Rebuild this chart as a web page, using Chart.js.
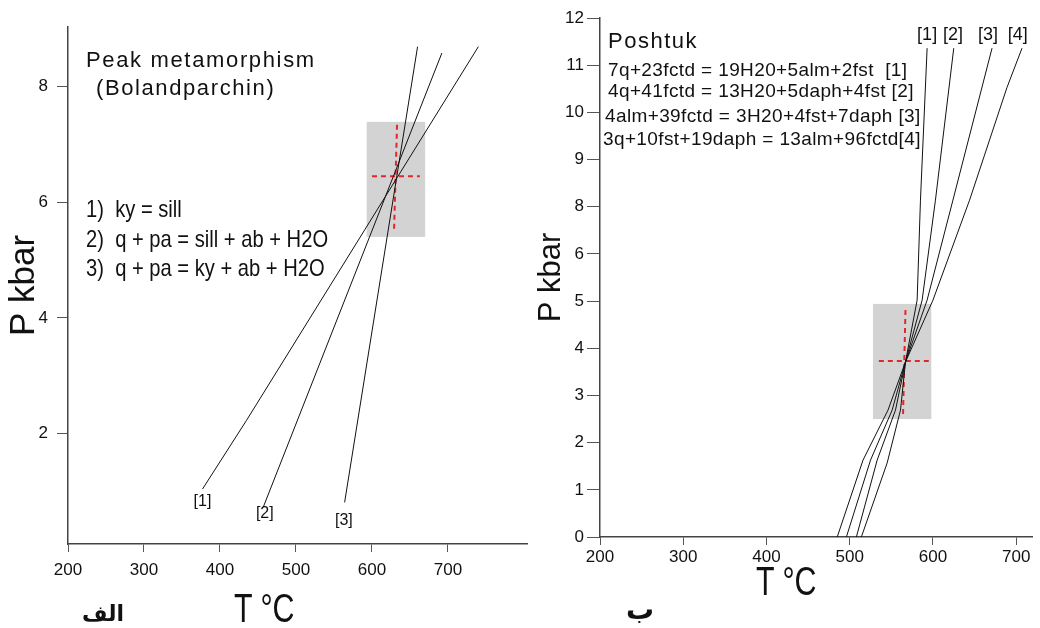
<!DOCTYPE html>
<html>
<head>
  <meta charset="utf-8">
  <title>P-T</title>
  <script src="https://cdn.jsdelivr.net/npm/chart.js@4.4.0/dist/chart.umd.min.js"></script>
  <style>
    body { margin:0; width:1040px; height:628px; position:relative; background:#fff; overflow:hidden;
           font-family:"Liberation Sans", Arial, sans-serif; color:#111; }
    canvas { position:absolute; top:0; }
    .t { position:absolute; white-space:nowrap; line-height:1; }
    .narrow { transform-origin:0 0; transform:scaleX(0.84); }
    .title { transform-origin:0 0; transform:scaleX(0.76); }
    .eq { font-size:19px; letter-spacing:0.38px; }
    .fa { font-family:"DejaVu Sans", sans-serif; font-weight:bold; }
  </style>
</head>
<body>
  <canvas id="left" width="530" height="628" style="left:0"></canvas>
  <canvas id="right" width="510" height="628" style="left:530px"></canvas>

  <div class="t" style="left:86px; top:49px; font-size:22px; letter-spacing:1.65px">Peak metamorphism</div>
  <div class="t" style="left:96px; top:77px; font-size:22px; letter-spacing:1.6px">(Bolandparchin)</div>
  <div class="t narrow" style="left:86px; top:197px; font-size:24px">1)&nbsp; ky = sill</div>
  <div class="t narrow" style="left:86px; top:227px; font-size:24px">2)&nbsp; q + pa = sill + ab + H2O</div>
  <div class="t narrow" style="left:86px; top:256px; font-size:24px">3)&nbsp; q + pa = ky + ab + H2O</div>

  <div class="t" style="left:608px; top:30px; font-size:22px; letter-spacing:1.5px">Poshtuk</div>
  <div class="t eq" style="left:608px; top:60px">7q+23fctd = 19H20+5alm+2fst&nbsp; [1]</div>
  <div class="t eq" style="left:608px; top:81px">4q+41fctd = 13H20+5daph+4fst [2]</div>
  <div class="t eq" style="left:605px; top:106px">4alm+39fctd = 3H20+4fst+7daph [3]</div>
  <div class="t eq" style="left:603px; top:129px">3q+10fst+19daph = 13alm+96fctd[4]</div>

  <div class="t title" style="left:234px; top:588px; font-size:40px">T °C</div>
  <div class="t title" style="left:756px; top:561px; font-size:40px">T °C</div>
  <div class="t fa" style="left:82px; top:603px; font-size:22px">الف</div>
  <div class="t fa" style="left:626px; top:596px; font-size:28px">ب</div>

  <script>
  // ---- left diagram (Bolandparchin): T in °C, P in kbar ----
  const leftXTicks = [200, 300, 400, 500, 600, 700];
  const leftYTicks = [2, 4, 6, 8];
  const line1T = [377, 435, 740];
  const line1P = [1.04, 2.23, 8.69];
  const line2T = [457, 692];
  const line2P = [0.73, 8.58];
  const line3T = [564, 660];
  const line3P = [0.81, 8.69];
  const leftBoxT = [593, 670];
  const leftBoxP = [5.40, 7.39];
  const leftCrossHT = [600, 663];
  const leftCrossHP = [6.45, 6.45];
  const leftCrossVT = [633, 629];
  const leftCrossVP = [7.34, 5.49];
  const leftLabels = ['[1]', '[2]', '[3]'];
  const leftLabelT = [377, 459, 563];
  const leftLabelP = [0.83, 0.62, 0.50];

  // ---- right diagram (Poshtuk): y is the position on the drawn axis,
  // whose ticks are labelled 0..6, 8..12 (no 7 on the original)
  const rightXTicks = [200, 300, 400, 500, 600, 700];
  const rightYLabels = ['0', '1', '2', '3', '4', '5', '6', '8', '9', '10', '11', '12'];
  const r1T = [514, 545, 561, 567, 581, 585, 593];
  const r1P = [0, 1.57, 2.69, 3.71, 5.02, 7.14, 10.36];
  const r2T = [508, 533, 555, 567, 587, 603, 625];
  const r2P = [0, 1.63, 2.69, 3.71, 5.02, 7.14, 10.36];
  const r3T = [496, 525, 551, 567, 593, 624, 671];
  const r3P = [0, 1.63, 2.69, 3.71, 5.02, 7.14, 10.36];
  const r4T = [485, 516, 546, 567, 600, 644, 689, 707];
  const r4P = [0, 1.63, 2.69, 3.71, 5.02, 7.14, 9.53, 10.36];
  const rightBoxT = [528, 598];
  const rightBoxP = [2.50, 4.94];
  const rightCrossHT = [535, 595];
  const rightCrossHP = [3.73, 3.73];
  const rightCrossVT = [567, 564];
  const rightCrossVP = [4.81, 2.54];
  const rightLabels = ['[1]', '[2]', '[3]', '[4]'];
  const rightLabelT = [593, 624, 666, 702];
  const rightLabelP = [10.64, 10.64, 10.64, 10.64];

  function pts(xs, ys){
    return xs.map((x, i) => ({x: x, y: ys[i]}));
  }
  function curve(xs, ys){
    return {data: pts(xs, ys), borderColor: '#111', borderWidth: 1, pointRadius: 0, showLine: true, tension: 0};
  }
  function dashed(xs, ys){
    return {data: pts(xs, ys), borderColor: '#e3262b', borderWidth: 2, borderDash: [5, 4], pointRadius: 0, showLine: true};
  }

  // grey uncertainty box behind the curves + text labels at line ends
  const extras = {
    id: 'extras',
    beforeDatasetsDraw(chart, args, opts){
      const {ctx, scales: {x, y}} = chart;
      const x0 = x.getPixelForValue(opts.boxT[0]), x1 = x.getPixelForValue(opts.boxT[1]);
      const y0 = y.getPixelForValue(opts.boxP[1]), y1 = y.getPixelForValue(opts.boxP[0]);
      ctx.save();
      ctx.fillStyle = '#d3d3d3';
      ctx.fillRect(x0, y0, x1 - x0, y1 - y0);
      ctx.restore();
    },
    afterDatasetsDraw(chart, args, opts){
      const {ctx, scales: {x, y}} = chart;
      ctx.save();
      ctx.font = opts.font;
      ctx.fillStyle = '#111';
      ctx.textAlign = 'center';
      ctx.textBaseline = 'middle';
      opts.labels.forEach(function(txt, i){
        ctx.fillText(txt, x.getPixelForValue(opts.labelT[i]), y.getPixelForValue(opts.labelP[i]));
      });
      ctx.restore();
    }
  };

  const tickFont = {family: 'Liberation Sans', size: 17};

  function axisX(min, max, ticks, pad, h){
    return {
      type: 'linear', min: min, max: max,
      afterBuildTicks: s => { s.ticks = ticks.map(v => ({value: v})); },
      afterFit: s => { s.height = h; },
      grid: {drawOnChartArea: false, tickLength: 8, color: '#555'},
      border: {color: '#444', width: 1.5},
      ticks: {font: tickFont, color: '#111', padding: pad, maxRotation: 0, autoSkip: false}
    };
  }

  new Chart(document.getElementById('left'), {
    type: 'scatter',
    data: {datasets: [
      curve(line1T, line1P), curve(line2T, line2P), curve(line3T, line3P),
      dashed(leftCrossHT, leftCrossHP), dashed(leftCrossVT, leftCrossVP)
    ]},
    options: {
      responsive: false, animation: false,
      layout: {padding: {top: 27, right: 3, bottom: 0, left: 0}},
      plugins: {
        legend: {display: false}, tooltip: {enabled: false},
        extras: {boxT: leftBoxT, boxP: leftBoxP, labels: leftLabels, labelT: leftLabelT, labelP: leftLabelP,
                 font: '16px "Liberation Sans"'}
      },
      scales: {
        x: axisX(200, 804, leftXTicks, 8, 84),
        y: {
          type: 'linear', min: 0.09, max: 9.03,
          afterBuildTicks: s => { s.ticks = leftYTicks.map(v => ({value: v})); },
          afterFit: s => { s.width = 68; },
          grid: {drawOnChartArea: false, tickLength: 11, color: '#555'},
          border: {color: '#444', width: 1.5},
          ticks: {font: tickFont, color: '#111', padding: 9},
          title: {display: true, text: 'P kbar', color: '#111', padding: {top: 3, bottom: 0},
                  font: {family: 'Liberation Sans', size: 35, lineHeight: 1.2}}
        }
      }
    },
    plugins: [extras]
  });

  new Chart(document.getElementById('right'), {
    type: 'scatter',
    data: {datasets: [
      curve(r1T, r1P), curve(r2T, r2P), curve(r3T, r3P), curve(r4T, r4P),
      dashed(rightCrossHT, rightCrossHP), dashed(rightCrossVT, rightCrossVP)
    ]},
    options: {
      responsive: false, animation: false,
      layout: {padding: {top: 18, right: 8, bottom: 0, left: 0}},
      plugins: {
        legend: {display: false}, tooltip: {enabled: false},
        extras: {boxT: rightBoxT, boxP: rightBoxP, labels: rightLabels, labelT: rightLabelT, labelP: rightLabelP,
                 font: '18px "Liberation Sans"'}
      },
      scales: {
        x: axisX(200, 719, rightXTicks, 2, 91),
        y: {
          type: 'linear', min: 0, max: 11,
          afterBuildTicks: s => { s.ticks = rightYLabels.map((l, i) => ({value: i})); },
          afterFit: s => { s.width = 70; },
          grid: {drawOnChartArea: false, tickLength: 13, color: '#555'},
          border: {color: '#444', width: 1.5},
          ticks: {font: tickFont, color: '#111', padding: 3, callback: (v) => rightYLabels[v]},
          title: {display: true, text: 'P kbar', color: '#111', padding: {top: 3, bottom: 0},
                  font: {family: 'Liberation Sans', size: 31, lineHeight: 1.2}}
        }
      }
    },
    plugins: [extras]
  });
  </script>
</body>
</html>
